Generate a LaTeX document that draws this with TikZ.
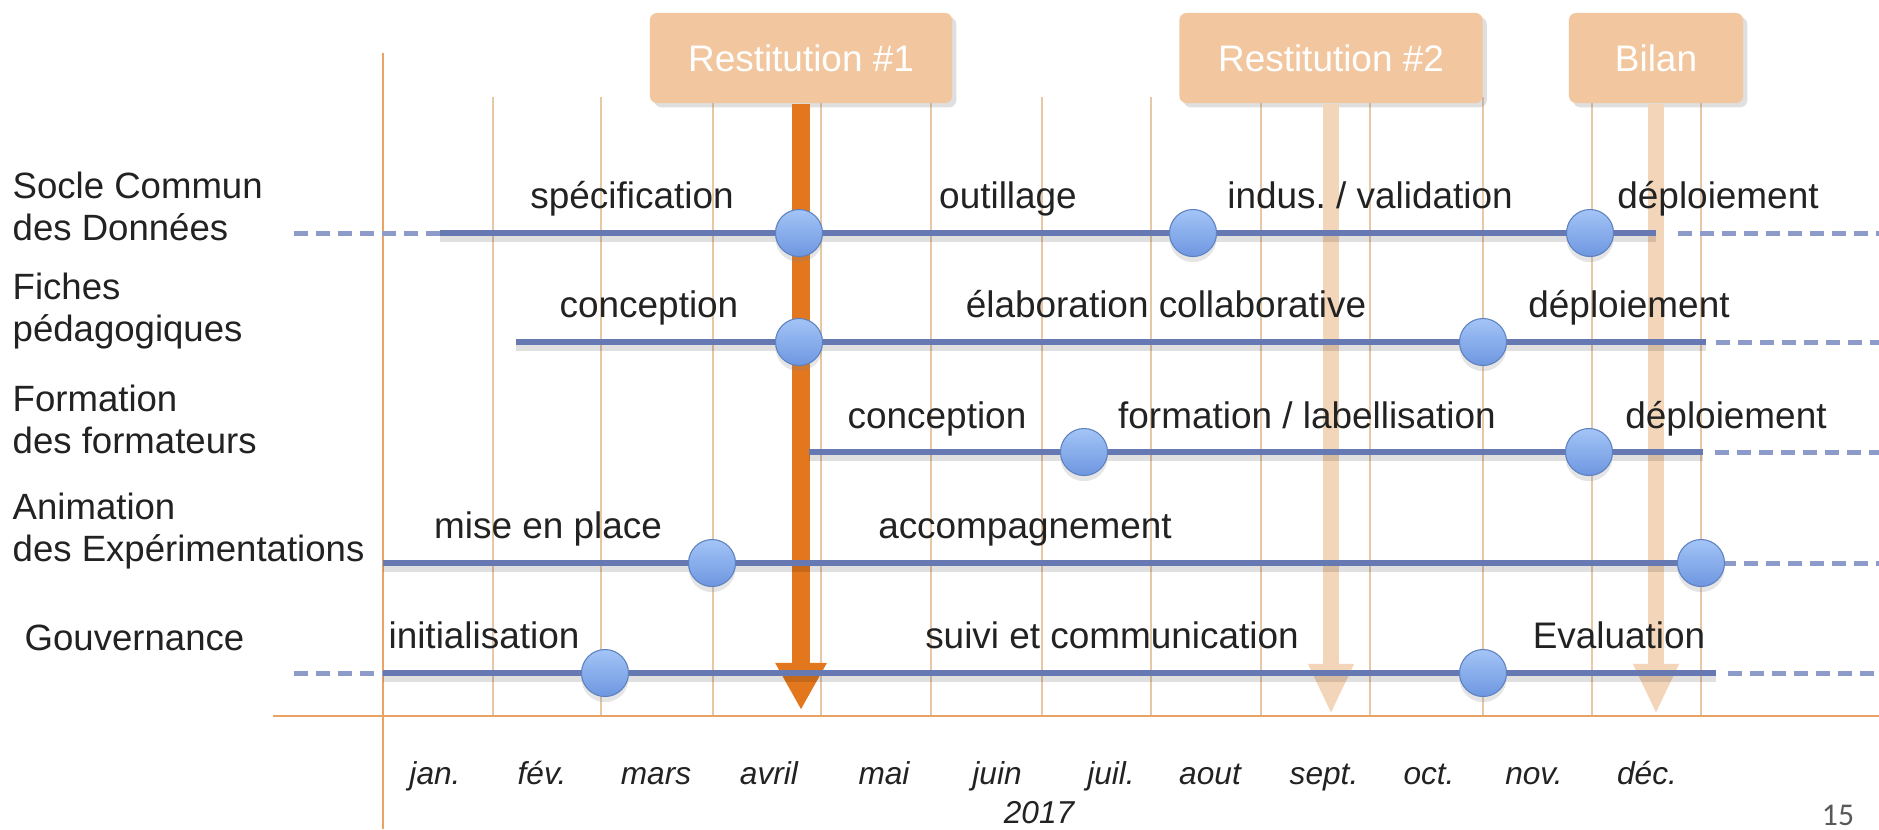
\documentclass[tikz,border=0pt]{standalone}
\usepackage{fontspec}
\setmainfont{Liberation Sans}
\newfontfamily\pagefont{Carlito}
\usetikzlibrary{arrows.meta}
\usetikzlibrary{shadows}
\definecolor{axisorange}{HTML}{E9A465}
\definecolor{monthtan}{HTML}{E6C7A6}
\definecolor{bannerfill}{HTML}{F2C79F}
\definecolor{arroworange}{HTML}{E2771E}
\definecolor{palepeach}{HTML}{F3D6B9}
\definecolor{lineblue}{HTML}{6679B3}
\definecolor{dashblue}{HTML}{8C9BC9}
\definecolor{jalontop}{HTML}{A3C4F7}
\definecolor{jalonbottom}{HTML}{6E97E0}
\definecolor{textgray}{HTML}{222222}
\tikzstyle{axisline}=[draw=axisorange, line width=0.028cm]
\tikzstyle{monthline}=[draw=monthtan, line width=0.014cm]
\tikzstyle{tline}=[draw=lineblue, line width=0.065cm, preaction={draw=black, opacity=0.12, line width=0.06cm, transform canvas={yshift=-1.6pt}}]
\tikzstyle{tdash}=[draw=dashblue, line width=0.05cm, dash pattern=on 0.14cm off 0.08cm]
\tikzstyle{jalon}=[circle, minimum size=0.47cm, inner sep=0pt, top color=jalontop, bottom color=jalonbottom, draw=jalonbottom!85!black, line width=0.3pt, drop shadow={opacity=0.2, shadow xshift=0pt, shadow yshift=-1.6pt}]
\tikzstyle{phase}=[font=\fontsize{10.5}{12}\selectfont, text=textgray, inner sep=0pt, anchor=base]
\tikzstyle{rowlabel}=[font=\fontsize{10.4}{11.9}\selectfont, text=textgray, inner sep=0pt, align=left, anchor=west]
\tikzstyle{month}=[font=\fontsize{9}{10}\selectfont\itshape, text=textgray, inner sep=0pt, anchor=base]
\tikzstyle{banner}=[fill=bannerfill, text=white, font=\fontsize{10.5}{12}\selectfont, minimum height=0.9cm, inner sep=0pt, rounded corners=2pt, drop shadow={opacity=0.25, shadow xshift=1.2pt, shadow yshift=-1.2pt}]
\tikzstyle{bigarrow}=[draw=arroworange, fill=arroworange, line width=0.18cm, -{Triangle[length=0.47cm, width=0.48cm]}]
\tikzstyle{palearrow}=[draw=palepeach, fill=palepeach, line width=0.16cm, -{Triangle[length=0.5cm, width=0.42cm]}]

\begin{document}
\begin{tikzpicture}[x=0.01cm, y=-0.01cm]
	\fill[white] (0,0) rectangle (1879,829);
	\useasboundingbox (0,0) rectangle (1879,829);

	% month lines and axes
	\draw[monthline] (493,97) -- (493,716);
	\draw[monthline] (601,97) -- (601,716);
	\draw[monthline] (713,97) -- (713,716);
	\draw[monthline] (821,97) -- (821,716);
	\draw[monthline] (931,97) -- (931,716);
	\draw[monthline] (1042,97) -- (1042,716);
	\draw[monthline] (1151,97) -- (1151,716);
	\draw[monthline] (1261,97) -- (1261,716);
	\draw[monthline] (1370,97) -- (1370,716);
	\draw[monthline] (1483,97) -- (1483,716);
	\draw[monthline] (1592,97) -- (1592,716);
	\draw[monthline] (1701,97) -- (1701,716);
	\draw[axisline] (383,53) -- (383,829);
	\draw[axisline] (273,716) -- (1879,716);

	% banners
	\node[banner, minimum width=3.02cm] (rest1) at (801,58) {Restitution \#1};
	\node[banner, minimum width=3.03cm] (rest2) at (1331,58) {Restitution \#2};
	\node[banner, minimum width=1.74cm] (bilan) at (1656,58) {Bilan};
	\coordinate (rest1tip) at (801,710);
	\coordinate (rest2tip) at (1331,714);
	\coordinate (bilantip) at (1656,714);
	\draw[palearrow] (rest2.south) -- (rest2tip);
	\draw[palearrow] (bilan.south) -- (bilantip);
	\draw[bigarrow] (rest1.south) -- (rest1tip);

	% Socle Commun des Donnees
	\coordinate (sc-w) at (294,233);
	\coordinate (sc-a) at (440,233);
	\coordinate (sc-b) at (1656,233);
	\coordinate (sc-c) at (1678,233);
	\coordinate (sc-e) at (1879,233);
	\draw[tdash] (sc-w) -- (sc-a);
	\draw[tline] (sc-a) -- (sc-b);
	\draw[tdash] (sc-c) -- (sc-e);

	% Fiches pedagogiques
	\coordinate (fp-a) at (516,342);
	\coordinate (fp-b) at (1706,342);
	\coordinate (fp-c) at (1716,342);
	\coordinate (fp-e) at (1879,342);
	\draw[tline] (fp-a) -- (fp-b);
	\draw[tdash] (fp-c) -- (fp-e);

	% Formation des formateurs
	\coordinate (ff-a) at (809,452);
	\coordinate (ff-b) at (1703,452);
	\coordinate (ff-c) at (1715,452);
	\coordinate (ff-e) at (1879,452);
	\draw[tline] (ff-a) -- (ff-b);
	\draw[tdash] (ff-c) -- (ff-e);

	% Animation des Experimentations
	\coordinate (ae-a) at (383,563);
	\coordinate (ae-b) at (1701,563);
	\coordinate (ae-c) at (1722,563);
	\coordinate (ae-e) at (1879,563);
	\draw[tline] (ae-a) -- (ae-b);
	\draw[tdash] (ae-c) -- (ae-e);

	% Gouvernance
	\coordinate (gv-w) at (294,673);
	\coordinate (gv-a) at (383,673);
	\coordinate (gv-b) at (1716,673);
	\coordinate (gv-c) at (1728,673);
	\coordinate (gv-e) at (1879,673);
	\draw[tdash] (gv-w) -- (gv-a);
	\draw[tline] (gv-a) -- (gv-b);
	\draw[tdash] (gv-c) -- (gv-e);

	% jalons
	\node[jalon] (sc1) at (799,233) {};
	\node[jalon] (sc2) at (1193,233) {};
	\node[jalon] (sc3) at (1590,233) {};
	\node[jalon] (fp1) at (799,342) {};
	\node[jalon] (fp2) at (1483,342) {};
	\node[jalon] (ff1) at (1084,452) {};
	\node[jalon] (ff2) at (1589,452) {};
	\node[jalon] (ae1) at (712,563) {};
	\node[jalon] (ae2) at (1701,563) {};
	\node[jalon] (gv1) at (605,673) {};
	\node[jalon] (gv2) at (1483,673) {};

	% phases
	\node[phase] (sc-spec) at (632,208) {spécification};
	\node[phase] (sc-outil) at (1008,208) {outillage};
	\node[phase] (sc-indus) at (1370,208) {indus.\ / validation};
	\node[phase] (sc-depl) at (1718,208) {déploiement};
	\node[phase] (fp-conc) at (649,317) {conception};
	\node[phase] (fp-elab) at (1166,317) {élaboration collaborative};
	\node[phase] (fp-depl) at (1629,317) {déploiement};
	\node[phase] (ff-conc) at (937,428) {conception};
	\node[phase] (ff-form) at (1307,428) {formation / labellisation};
	\node[phase] (ff-depl) at (1726,428) {déploiement};
	\node[phase] (ae-mise) at (548,538) {mise en place};
	\node[phase] (ae-acc) at (1025,538) {accompagnement};
	\node[phase] (gv-init) at (484,648) {initialisation};
	\node[phase] (gv-suivi) at (1112,648) {suivi et communication};
	\node[phase] (gv-eval) at (1619,648) {Evaluation};

	% rows
	\node[rowlabel] (row-sc) at (12,206) {Socle Commun\\des Données};
	\node[rowlabel] (row-fp) at (12,311) {Fiches\\pédagogiques};
	\node[rowlabel] (row-ff) at (12,419) {Formation\\des formateurs};
	\node[rowlabel] (row-ae) at (12,531) {Animation\\des Expérimentations};
	\node[rowlabel] (row-gv) at (24,638) {Gouvernance};

	% months
	\node[month] (m1) at (435,784) {jan.};
	\node[month] (m2) at (542,784) {fév.};
	\node[month] (m3) at (656,784) {mars};
	\node[month] (m4) at (769,784) {avril};
	\node[month] (m5) at (884,784) {mai};
	\node[month] (m6) at (997,784) {juin};
	\node[month] (m7) at (1111,784) {juil.};
	\node[month] (m8) at (1210,784) {aout};
	\node[month] (m9) at (1324,784) {sept.};
	\node[month] (m10) at (1429,784) {oct.};
	\node[month] (m11) at (1534,784) {nov.};
	\node[month] (m12) at (1647,784) {déc.};
	\node[month] (year) at (1039,823) {2017};

	\node[font=\pagefont\fontsize{9}{10}\selectfont, text=black!65, inner sep=0pt, anchor=base] (pagenum) at (1838,825) {15};
\end{tikzpicture}
\end{document}
